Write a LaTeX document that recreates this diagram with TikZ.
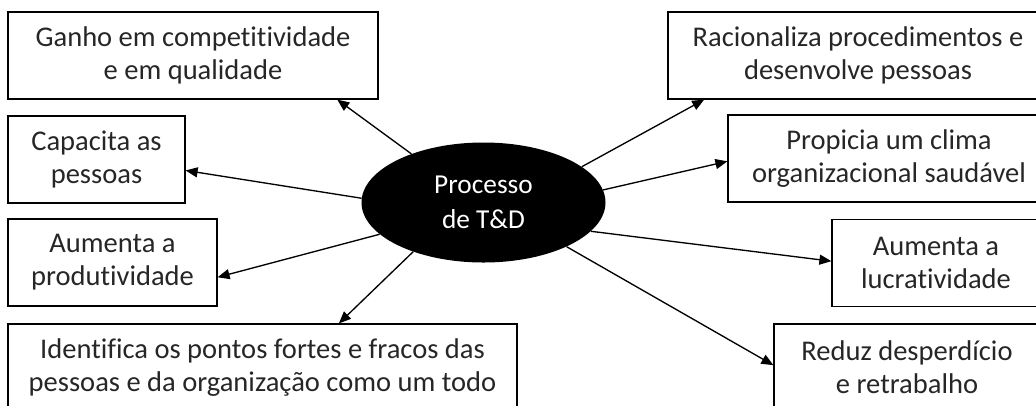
\documentclass[tikz,border=0pt]{standalone}
\usepackage{fontspec}
\setmainfont[Ligatures=CommonOff]{Carlito}
\usepackage{tikz}
\usetikzlibrary{arrows.meta, shapes.geometric}

\begin{document}
\begin{tikzpicture}[
  x=0.75pt, y=-0.75pt,
  effect/.style={draw, line width=0.9pt, minimum height=65.25pt, inner sep=0pt,
                 align=center, text=black!85, font=\fontsize{21.4}{24.75}\selectfont},
  hub/.style={ellipse, fill=black, text=white, minimum width=183pt, minimum height=90pt,
              inner sep=0pt, align=center, font=\fontsize{20.5}{26}\selectfont},
  link/.style={-{Triangle[length=9pt, width=7.5pt]}, line width=1pt},
]
\useasboundingbox (0,0) rectangle (1036,405);
\clip (0,0) rectangle (1036,405);

% Centre
\node[hub] (td) at (483.5,202.5) {Processo\\de T\&D};

% Left side
\node[effect, minimum width=277.5pt] (ganho) at (193,55.5) {Ganho em competitividade\\e em qualidade};
\node[effect, minimum width=132.75pt] (capacita) at (96.5,159.5) {Capacita as\\pessoas};
\node[effect, minimum width=156.75pt] (produt) at (112.5,262.5) {Aumenta a\\produtividade};
\node[effect, minimum width=381.75pt] (identif) at (262.5,367.5) {Identifica os pontos fortes e fracos das\\pessoas e da organização como um todo};

% Right side
\node[effect, minimum width=285pt] (racional) at (858,55.5) {Racionaliza procedimentos e\\desenvolve pessoas};
\node[effect, minimum width=241.5pt] (propicia) at (889,158.5) {Propicia um clima\\organizacional saudável};
\node[effect, minimum width=156pt] (lucrat) at (936,263) {Aumenta a\\lucratividade};
\node[effect, minimum width=199.5pt] (reduz) at (907,367.5) {Reduz desperdício\\e retrabalho};

% Arrows out of the centre
\draw[link] (td.146.8) -- (ganho.-17.9);
\draw[link] (td.178) -- (capacita.-7.7);
\draw[link] (td.197.5) -- (produt.-8.9);
\draw[link] (td.215.6) -- (identif.30.2);
\draw[link] (td.20.6) -- (racional.-164.6);
\draw[link] (td.6.6) -- (propicia.181.6);
\draw[link] (td.-15.8) -- (lucrat.179.5);
\draw[link] (td.-28.9) -- (reduz.179);
\end{tikzpicture}
\end{document}
